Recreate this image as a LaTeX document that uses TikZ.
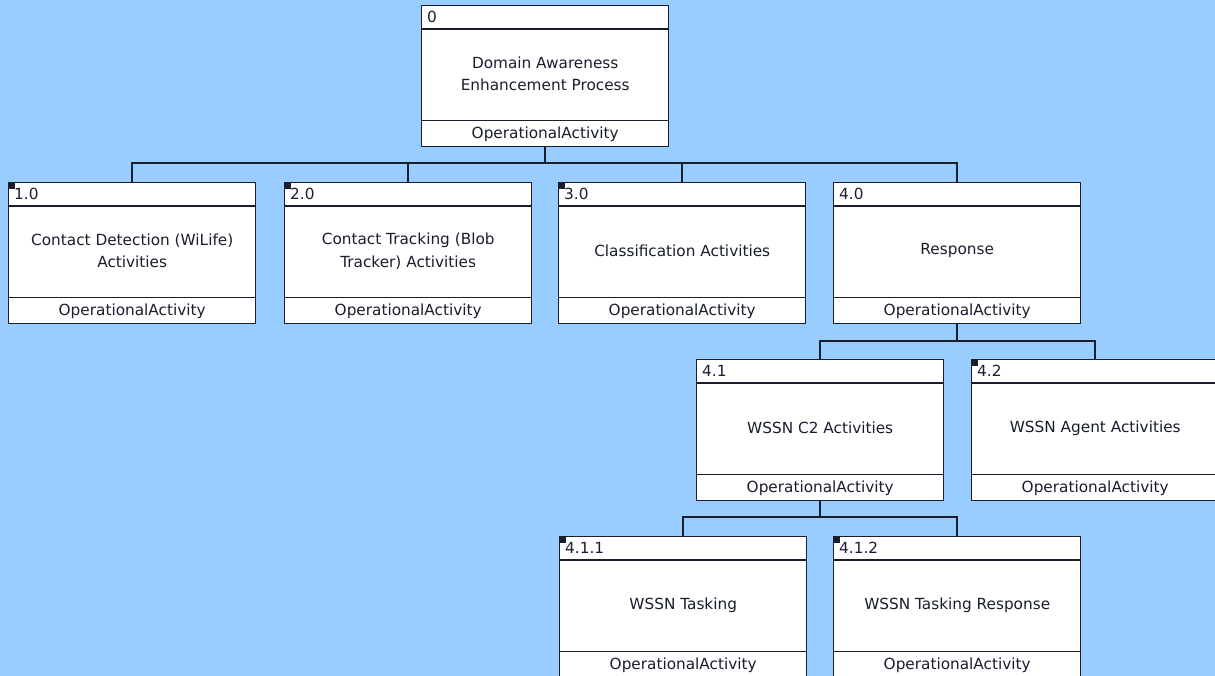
\documentclass[tikz,border=0pt]{standalone}
\usepackage{fontspec}
\setmainfont{DejaVu Sans}
\definecolor{bgblue}{RGB}{153,204,255}
\definecolor{ink}{RGB}{25,30,45}
\begin{document}
\begin{tikzpicture}[x=1pt,y=-1pt,
  actbox/.style={draw=ink,line width=1.4pt,fill=white,minimum width=247pt,minimum height=141pt,anchor=north west,inner sep=0pt},
  numtxt/.style={anchor=west,inner sep=0pt,font=\fontsize{15.3}{18}\selectfont,text=ink},
  bodytxt/.style={anchor=center,inner sep=0pt,align=center,font=\fontsize{15.3}{22.5}\selectfont,text=ink},
  steretxt/.style={anchor=center,inner sep=0pt,font=\fontsize{15.3}{18}\selectfont,text=ink},
  sep/.style={draw=ink,line width=1.2pt},
  conn/.style={draw=ink,line width=1.5pt},
  leafmark/.style={fill=ink,minimum width=7pt,minimum height=7pt,inner sep=0pt,anchor=north west}
]
\useasboundingbox (0,0) rectangle (1215,676);
\clip (0,0) rectangle (1215,676);
\fill[bgblue] (0,0) rectangle (1215,676);

% name, left, top, number, body, leaf(1/0)
\newcommand{\actnode}[6]{%
  \node[actbox] (#1) at (#2,#3) {};
  \draw[sep] ([yshift=-24pt]#1.north west) -- ([yshift=-24pt]#1.north east);
  \draw[sep] ([yshift=27pt]#1.south west) -- ([yshift=27pt]#1.south east);
  \node[numtxt] (#1num) at ([xshift=6pt,yshift=-12pt]#1.north west) {#4};
  \node[bodytxt] (#1body) at ([yshift=-69pt]#1.north) {#5};
  \node[steretxt] (#1st) at ([yshift=13.5pt]#1.south) {OperationalActivity};
  \ifnum#6=1 \node[leafmark] (#1mark) at (#1.north west) {};\fi
}

\actnode{b0}{421}{5}{0}{Domain Awareness\\Enhancement Process}{0}
\actnode{b1}{8}{182}{1.0}{Contact Detection (WiLife)\\Activities}{1}
\actnode{b2}{284}{182}{2.0}{Contact Tracking (Blob\\Tracker) Activities}{1}
\actnode{b3}{558}{182}{3.0}{Classification Activities}{1}
\actnode{b4}{833}{182}{4.0}{Response}{0}
\actnode{b41}{696}{359}{4.1}{WSSN C2 Activities}{0}
\actnode{b42}{971}{359}{4.2}{WSSN Agent Activities}{1}
\actnode{b411}{559}{536}{4.1.1}{WSSN Tasking}{1}
\actnode{b412}{833}{536}{4.1.2}{WSSN Tasking Response}{1}

% connectors
\foreach \c in {b1,b2,b3,b4}{
  \draw[conn] (b0.south) -- (b0.south |- 0,163) -| (\c.north);
}
\foreach \c in {b41,b42}{
  \draw[conn] (b4.south) -- (b4.south |- 0,341) -| (\c.north);
}
\foreach \c in {b411,b412}{
  \draw[conn] (b41.south) -- (b41.south |- 0,517) -| (\c.north);
}
\end{tikzpicture}
\end{document}
